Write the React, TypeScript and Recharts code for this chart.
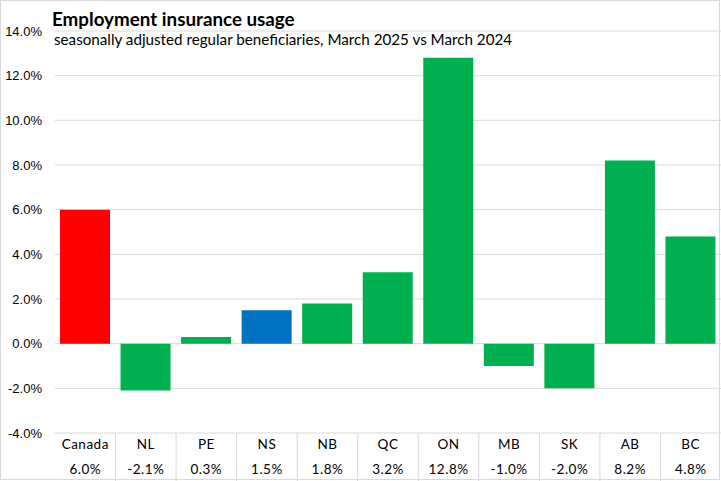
import React from 'react';
import { BarChart, Bar, XAxis, YAxis, CartesianGrid, Cell } from 'recharts';

const categories = ['Canada', 'NL', 'PE', 'NS', 'NB', 'QC', 'ON', 'MB', 'SK', 'AB', 'BC'];
const values = [6.0, -2.1, 0.3, 1.5, 1.8, 3.2, 12.8, -1.0, -2.0, 8.2, 4.8];
const colors = ['#FF0000', '#00B050', '#00B050', '#0070C0', '#00B050', '#00B050', '#00B050', '#00B050', '#00B050', '#00B050', '#00B050'];
const yTicks = [-4, -2, 0, 2, 4, 6, 8, 10, 12, 14];

const data = categories.map((c, i) => ({ name: c, value: values[i] }));

const W = 721;
const H = 481;
const LEFT = 55;
const XH = 48;

const CatTick = (props: any) => {
  const { x, y, payload, index } = props;
  const band = (W - LEFT) / categories.length;
  const v = values[index];
  return (
    <g>
      <text x={x} y={y + 10} textAnchor="middle" fontSize={13.5} fill="#000" fontFamily="Lato, 'Open Sans', sans-serif" letterSpacing={0.5}>
        {payload.value}
      </text>
      <text x={x} y={y + 35} textAnchor="middle" fontSize={13.5} fill="#000" fontFamily="Lato, 'Open Sans', sans-serif" letterSpacing={0.5}>
        {v.toFixed(1) + '%'}
      </text>
      {index < categories.length - 1 && (
        <line x1={x + band / 2} x2={x + band / 2} y1={y - 6} y2={y + XH} stroke="#d9d9d9" strokeWidth={1} />
      )}
    </g>
  );
};

export default function App() {
  return (
    <div style={{ position: 'fixed', left: 0, top: 0, width: W, height: H, background: '#fff' }}>
      <BarChart width={W} height={H} data={data} margin={{ top: 31, right: 0, left: 0, bottom: 0 }} barSize={50}>
        <CartesianGrid vertical={false} stroke="#d9d9d9" strokeWidth={1} />
        <XAxis
          dataKey="name"
          height={XH}
          axisLine={false}
          tickLine={false}
          interval={0}
          tick={<CatTick />}
          tickMargin={0}
        />
        <YAxis
          width={LEFT}
          domain={[-4, 14]}
          ticks={yTicks}
          axisLine={false}
          tickLine={false}
          tickSize={0}
          tickMargin={13}
          tickFormatter={(v: number) => v.toFixed(1) + '%'}
          tick={{ fontSize: 13, fill: '#000', fontFamily: "'Liberation Sans', Arial, sans-serif" }}
        />
        <Bar dataKey="value" isAnimationActive={false}>
          {data.map((d, i) => (
            <Cell key={d.name} fill={colors[i]} />
          ))}
        </Bar>
      </BarChart>
      <div style={{ position: 'absolute', left: 52, top: 7, fontFamily: 'Lato, sans-serif', fontWeight: 700, fontSize: 18.8, color: '#000', lineHeight: '24px', whiteSpace: 'nowrap' }}>
        Employment insurance usage
      </div>
      <div style={{ position: 'absolute', left: 54, top: 30, fontFamily: 'Lato, sans-serif', fontSize: 15.2, color: '#000', lineHeight: '19px', whiteSpace: 'nowrap' }}>
        seasonally adjusted regular beneficiaries, March 2025 vs March 2024
      </div>
      <div style={{ position: 'absolute', left: 0, top: 0, width: W - 1, height: H - 1, boxSizing: 'border-box', border: '1px solid #d9d9d9', pointerEvents: 'none' }} />
    </div>
  );
}
